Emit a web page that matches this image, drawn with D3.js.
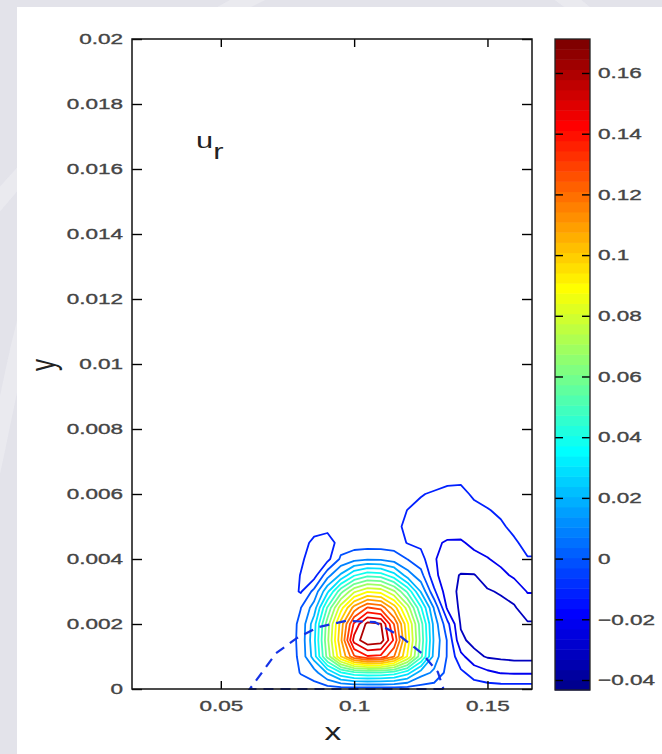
<!DOCTYPE html>
<html>
<head>
<meta charset="utf-8">
<script src="https://cdn.jsdelivr.net/npm/d3@7"></script>
<style>
	html, body { margin: 0; padding: 0; background: #e3e3ea; }
	svg { display: block; }
</style>
</head>
<body>
<svg id="chart" width="662" height="754"></svg>
<script>
	'use strict';

	// DATA: u_r sampled on a regular grid (x every 0.005, y every 0.0005)
	var xNodes = [0.050, 0.055, 0.060, 0.065, 0.070, 0.075, 0.080, 0.085, 0.090, 0.095, 0.100, 0.105, 0.110,
		0.115, 0.120, 0.125, 0.130, 0.135, 0.140, 0.145, 0.150, 0.155, 0.160, 0.165, 0.170];
	var yNodes = [0, 0.0005, 0.0010, 0.0015, 0.0020, 0.0025, 0.0030, 0.0035, 0.0040, 0.0045, 0.0050, 0.0055,
		0.0060, 0.0065, 0.0070, 0.0075];

	var uY0000 = [-0.005, -0.005, -0.005, -0.005, -0.005, -0.005, -0.005, -0.005, -0.005, -0.005, -0.005, -0.005, -0.005,
		-0.005, -0.005, -0.005, -0.005, -0.005, -0.005, -0.005, -0.005, -0.005, -0.005, -0.005, -0.005];
	var uY0005 = [-0.005, -0.005, -0.005, -0.005, -0.005, -0.005, 0.0005, 0.0053, 0.021, 0.0386, 0.0471, 0.0491, 0.0489,
		0.0452, 0.034, 0.0148, 0.008, -0.003, -0.008, -0.014, -0.018, -0.0205, -0.021, -0.021, -0.021];
	var uY0010 = [-0.005, -0.005, -0.005, -0.005, -0.005, -0.005, 0.0021, 0.0251, 0.0635, 0.0997, 0.1285, 0.1391, 0.1375,
		0.1202, 0.0889, 0.0533, 0.0159, -0.001, -0.017, -0.027, -0.031, -0.032, -0.033, -0.033, -0.033];
	var uY0015 = [-0.005, -0.005, -0.005, -0.005, -0.005, -0.005, 0.0027, 0.0276, 0.0676, 0.1076, 0.154, 0.1676, 0.1655,
		0.138, 0.0953, 0.0568, 0.0181, -0.001, -0.028, -0.033, -0.035, -0.036, -0.036, -0.036, -0.036];
	var uY0020 = [-0.005, -0.005, -0.005, -0.005, -0.005, -0.005, 0.0022, 0.0258, 0.0652, 0.1042, 0.1418, 0.1632, 0.1607,
		0.1294, 0.0922, 0.0546, 0.0163, -0.007, -0.031, -0.034, -0.035, -0.035, -0.034, -0.031, -0.031];
	var uY0025 = [-0.005, -0.005, -0.005, -0.005, -0.005, -0.005, -0.0002, 0.0147, 0.0512, 0.0854, 0.1142, 0.1307, 0.1266,
		0.1053, 0.0753, 0.0416, 0.0088, -0.022, -0.032, -0.034, -0.034, -0.033, -0.031, -0.025, -0.025];
	var uY0030 = [-0.005, -0.005, -0.005, -0.005, -0.005, -0.005, -0.011, 0.003, 0.0278, 0.0562, 0.0779, 0.0889, 0.0863,
		0.0716, 0.048, 0.0194, -0.008, -0.026, -0.032, -0.032, -0.031, -0.029, -0.026, -0.0195, -0.0195];
	var uY0035 = [-0.005, -0.005, -0.005, -0.005, -0.005, -0.003, -0.0105, -0.014, 0.0062, 0.0217, 0.0388, 0.0469, 0.045,
		0.0338, 0.015, 0.0038, -0.017, -0.027, -0.0305, -0.0305, -0.0255, -0.0225, -0.0185, -0.0148, -0.0148];
	var uY0040 = [-0.005, -0.005, -0.005, -0.005, -0.005, -0.005, -0.008, -0.016, -0.013, 0.0016, 0.0062, 0.0084, 0.0079,
		0.0049, -0.0002, -0.006, -0.019, -0.025, -0.025, -0.0225, -0.0205, -0.0175, -0.0145, -0.0105, -0.0105];
	var uY0045 = [-0.005, -0.005, -0.005, -0.005, -0.005, -0.005, -0.005, -0.013, -0.016, -0.005, -0.005, -0.005, -0.005,
		-0.005, -0.0105, -0.0125, -0.0185, -0.021, -0.021, -0.018, -0.016, -0.0138, -0.0112, -0.0075, -0.0075];
	var uY0050 = [-0.005, -0.005, -0.005, -0.005, -0.005, -0.005, -0.005, -0.005, -0.006, -0.005, -0.005, -0.005, -0.005,
		-0.005, -0.014, -0.0125, -0.0145, -0.0155, -0.016, -0.015, -0.0125, -0.0112, -0.008, -0.005, -0.005];
	var uY0055 = [-0.005, -0.005, -0.005, -0.005, -0.005, -0.005, -0.005, -0.005, -0.005, -0.005, -0.005, -0.005, -0.005,
		-0.005, -0.0102, -0.012, -0.0128, -0.0135, -0.0135, -0.0125, -0.0105, -0.0085, -0.005, -0.005, -0.005];
	var uY0060 = [-0.005, -0.005, -0.005, -0.005, -0.005, -0.005, -0.005, -0.005, -0.005, -0.005, -0.005, -0.005, -0.005,
		-0.005, -0.005, -0.0095, -0.011, -0.012, -0.0125, -0.0085, -0.007, -0.0055, -0.005, -0.005, -0.005];
	var uY0065 = [-0.005, -0.005, -0.005, -0.005, -0.005, -0.005, -0.005, -0.005, -0.005, -0.005, -0.005, -0.005, -0.005,
		-0.005, -0.005, -0.005, -0.006, -0.008, -0.008, -0.005, -0.005, -0.005, -0.005, -0.005, -0.005];
	var uY0070 = [-0.005, -0.005, -0.005, -0.005, -0.005, -0.005, -0.005, -0.005, -0.005, -0.005, -0.005, -0.005, -0.005,
		-0.005, -0.005, -0.005, -0.005, -0.005, -0.005, -0.005, -0.005, -0.005, -0.005, -0.005, -0.005];
	var uY0075 = [-0.005, -0.005, -0.005, -0.005, -0.005, -0.005, -0.005, -0.005, -0.005, -0.005, -0.005, -0.005, -0.005,
		-0.005, -0.005, -0.005, -0.005, -0.005, -0.005, -0.005, -0.005, -0.005, -0.005, -0.005, -0.005];

	var contourLevels = [-0.03, -0.02, -0.01, 0, 0.01, 0.02, 0.03, 0.04, 0.05, 0.06, 0.07, 0.08, 0.09, 0.10,
		0.11, 0.12, 0.13, 0.14, 0.15, 0.16];
	var colorMin = -0.0433,
		colorMax = 0.1712;

	// dashed curve
	var dashX = [0.1335, 0.0609, 0.0707, 0.0786, 0.0864, 0.0970, 0.1078, 0.1172, 0.1254, 0.1314, 0.1335];
	var dashY = [0, 0, 0.0011, 0.00157, 0.0019, 0.0021, 0.00206, 0.00163, 0.0011, 0.00052, 0];

	var xDomain = [0.0167, 0.1667],
		yDomain = [0, 0.02];
	var xTicks = [0.05, 0.1, 0.15],
		xTickLabels = ['0.05', '0.1', '0.15'];
	var yTicks = [0, 0.002, 0.004, 0.006, 0.008, 0.01, 0.012, 0.014, 0.016, 0.018, 0.02],
		yTickLabels = ['0', '0.002', '0.004', '0.006', '0.008', '0.01', '0.012', '0.014', '0.016', '0.018', '0.02'];
	var cbTicks = [0.16, 0.14, 0.12, 0.1, 0.08, 0.06, 0.04, 0.02, 0, -0.02, -0.04],
		cbTickLabels = ['0.16', '0.14', '0.12', '0.1', '0.08', '0.06', '0.04', '0.02', '0', '\u22120.02', '\u22120.04'];

	var uRows = [uY0000, uY0005, uY0010, uY0015, uY0020, uY0025, uY0030, uY0035, uY0040, uY0045,
		uY0050, uY0055, uY0060, uY0065, uY0070, uY0075];

	var font = '"Liberation Sans", Arial, Helvetica, sans-serif',
		textColor = '#454545',
		stretch = 1.5;

	// MATLAB jet(64)
	var jet = function (v) {
		var k = Math.floor((v - colorMin) / (colorMax - colorMin) * 64);
		k = Math.max(0, Math.min(63, k));
		var t = (k + 1) / 64;
		var c = function (a) {
			return Math.round(255 * Math.max(0, Math.min(1, 1.5 - Math.abs(4 * t - a))));
		};
		return d3.rgb(c(3), c(2), c(1)).toString();
	};

	var svg = d3.select('#chart');

	// BACKGROUND
	svg.append('rect').attr('width', 662).attr('height', 754).attr('fill', '#e3e3ea');
	['M-40,250 C40,140 150,40 290,-20', 'M540,-20 C600,20 640,60 700,130', 'M-30,560 C0,460 10,360 40,270']
		.forEach(function (d) {
			svg.append('path').attr('d', d).attr('fill', 'none')
				.attr('stroke', '#f2f2f6').attr('stroke-width', 16).attr('opacity', 0.45);
		});
	svg.append('rect').attr('x', 17).attr('y', 7).attr('width', 645).attr('height', 747).attr('fill', '#ffffff');

	var xScale = d3.scaleLinear().domain(xDomain).range([132, 532]),
		yScale = d3.scaleLinear().domain(yDomain).range([689, 39]),
		cScale = d3.scaleLinear().domain([colorMin, colorMax]).range([690, 39]);

	// CONTOURS
	var nx = xNodes.length,
		ny = yNodes.length;
	var gridX = d3.scaleLinear().domain([0.5, nx - 0.5]).range([xNodes[0], xNodes[nx - 1]]),
		gridY = d3.scaleLinear().domain([0.5, ny - 0.5]).range([yNodes[0], yNodes[ny - 1]]);

	var values = [];
	uRows.forEach(function (row) {
		row.forEach(function (v) { values.push(v); });
	});
	var negValues = values.map(function (v) { return -v; });

	var contourGen = d3.contours().size([nx, ny]);
	var toScreen = d3.geoTransform({
		point: function (gx, gy) {
			this.stream.point(xScale(gridX(gx)), yScale(gridY(gy)));
		}
	});
	var contourPath = d3.geoPath(toScreen);

	svg.append('clipPath').attr('id', 'plot-clip')
		.append('rect').attr('x', 132).attr('y', 39).attr('width', 400).attr('height', 650);

	var plot = svg.append('g').attr('clip-path', 'url(#plot-clip)');

	contourLevels.forEach(function (level) {
		var shape = level < 0 ? contourGen.contour(negValues, -level) : contourGen.contour(values, level);
		plot.append('path')
			.datum(shape)
			.attr('d', contourPath)
			.attr('fill', 'none')
			.attr('stroke', jet(level))
			.attr('stroke-width', 1.8)
			.attr('stroke-linejoin', 'round');
	});

	var dashLine = d3.line()
		.x(function (d) { return xScale(dashX[d]); })
		.y(function (d) { return yScale(dashY[d]); });

	svg.append('path')
		.datum(d3.range(dashX.length))
		.attr('d', dashLine)
		.attr('fill', 'none')
		.attr('stroke', '#1432e6')
		.attr('stroke-width', 2.2)
		.attr('stroke-dasharray', '10,7');

	// AXES
	var styleAxis = function (g) {
		g.attr('font-family', font).attr('font-size', 15).attr('color', '#000');
		g.select('.domain').remove();
		g.selectAll('.tick line').attr('stroke-width', 1.4);
		g.selectAll('.tick text')
			.attr('fill', textColor)
			.attr('stroke', textColor)
			.attr('stroke-width', 0.35)
			.attr('transform', function () {
				var x = +this.getAttribute('x') || 0;
				return 'translate(' + x + ',0) scale(' + stretch + ',1)';
			})
			.attr('x', 0);
	};

	svg.append('g')
		.attr('transform', 'translate(132,0)')
		.call(d3.axisLeft(yScale).tickValues(yTicks).tickSize(-10).tickPadding(9)
			.tickFormat(function (d, i) { return yTickLabels[i]; }))
		.call(styleAxis);

	svg.append('g')
		.attr('transform', 'translate(532,0)')
		.call(d3.axisRight(yScale).tickValues(yTicks).tickSize(-10).tickFormat(''))
		.call(styleAxis);

	svg.append('g')
		.attr('transform', 'translate(0,689)')
		.call(d3.axisBottom(xScale).tickValues(xTicks).tickSize(-8).tickPadding(11)
			.tickFormat(function (d, i) { return xTickLabels[i]; }))
		.call(styleAxis);

	svg.append('g')
		.attr('transform', 'translate(0,39)')
		.call(d3.axisTop(xScale).tickValues(xTicks).tickSize(-8).tickFormat(''))
		.call(styleAxis);

	svg.append('rect')
		.attr('x', 132).attr('y', 39).attr('width', 400).attr('height', 650)
		.attr('fill', 'none').attr('stroke', '#111').attr('stroke-width', 1.5);

	// COLORBAR
	var step = (colorMax - colorMin) / 64;
	svg.append('g').selectAll('rect')
		.data(d3.range(64))
		.enter().append('rect')
		.attr('x', 555)
		.attr('width', 35)
		.attr('y', function (k) { return cScale(colorMin + (k + 1) * step); })
		.attr('height', function (k) { return cScale(colorMin + k * step) - cScale(colorMin + (k + 1) * step) + 0.5; })
		.attr('fill', function (k) { return jet(colorMin + (k + 0.5) * step); });

	svg.append('g')
		.attr('transform', 'translate(555,0)')
		.call(d3.axisRight(cScale).tickValues(cbTicks).tickSize(8).tickFormat(''))
		.call(styleAxis);

	svg.append('g')
		.attr('transform', 'translate(590,0)')
		.call(d3.axisRight(cScale).tickValues(cbTicks).tickSize(-8).tickPadding(8)
			.tickFormat(function (d, i) { return cbTickLabels[i]; }))
		.call(styleAxis);

	svg.append('rect')
		.attr('x', 555).attr('y', 39).attr('width', 35).attr('height', 651)
		.attr('fill', 'none').attr('stroke', '#222').attr('stroke-width', 1.3);

	// LABELS
	svg.append('text')
		.attr('transform', 'translate(333,740) scale(1.4,1)')
		.attr('text-anchor', 'middle')
		.attr('font-family', font).attr('font-size', 24).attr('fill', '#222')
		.text('x');

	svg.append('text')
		.attr('transform', 'translate(55,365) scale(1.5,1) rotate(-90)')
		.attr('text-anchor', 'middle')
		.attr('font-family', font).attr('font-size', 24).attr('fill', '#222')
		.text('y');

	var ur = svg.append('text')
		.attr('transform', 'translate(196,148) scale(1.4,1)')
		.attr('font-family', font).attr('font-size', 22).attr('fill', '#222');
	ur.append('tspan').text('u');
	ur.append('tspan').attr('dy', 11).text('r');
</script>
</body>
</html>
